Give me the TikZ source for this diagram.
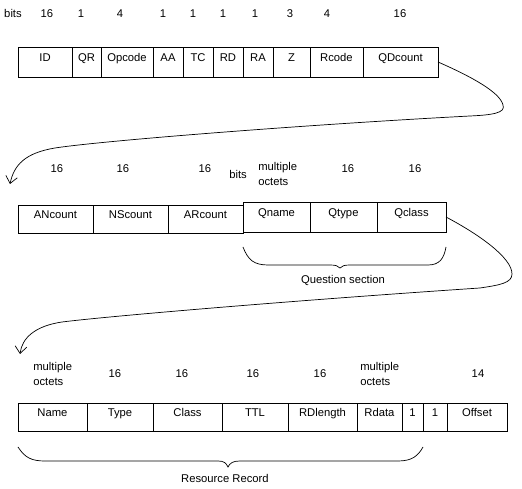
\documentclass[tikz,border=0pt]{standalone}
\usepackage{fontspec}
\setmainfont{Liberation Sans}
\usetikzlibrary{arrows.meta,positioning}

\begin{document}
\begin{tikzpicture}[x=0.03cm, y=-0.03cm, line width=0.6pt,
    every node/.style={font=\fontsize{9.6}{13}\selectfont, inner sep=0pt},
    field/.style={draw, outer sep=0pt, minimum height=0.9cm, text height=4pt, text depth=4pt},
    bitnum/.style={anchor=base},
    octets/.style={align=left, anchor=west},
    link/.style={-{Straight Barb[length=6pt,width=10pt]}}]
  \useasboundingbox (0,0) rectangle (522,489);

  % Header
  \foreach \x/\b in {13/bits, 47/16, 81/1, 120/4, 163/1, 193/1, 223/1, 255/1, 290/3, 327/4, 400/16}
    \node[bitnum] (h\x) at (\x,18) {\b};
  \foreach \name/\xa/\xb in {ID/18/72, QR/72/101, Opcode/101/153, AA/153/183, TC/183/213, RD/213/243, RA/243/273, Z/273/310, Rcode/310/363, QDcount/363/438}
    \node[field, minimum width={(\xb-\xa)*0.03cm}] (\name) at ({(\xa+\xb)/2},62) {\name};

  % Counts and question section
  \foreach \x/\b in {57/16, 123/16, 205/16, 348/16, 415/16}
    \node[bitnum] (c\x) at (\x,173) {\b};
  \node[bitnum] (cbits) at (238,179) {bits};
  \node[octets] (qoct) at (258,174) {multiple\\octets};
  \foreach \name/\xa/\xb in {ANcount/18/93, NScount/93/168, ARcount/168/243}
    \node[field, minimum width={(\xb-\xa)*0.03cm}, minimum height=0.84cm] (\name) at ({(\xa+\xb)/2},219) {\name};
  \foreach \name/\xa/\xb in {Qname/243/310, Qtype/310/377, Qclass/377/446}
    \node[field, minimum width={(\xb-\xa)*0.03cm}] (\name) at ({(\xa+\xb)/2},217) {\name};
  \draw (243,247) .. controls (248,260) and (254,265) .. (268,265) -- (330,265)
    .. controls (336,265) and (338,266) .. (340,268) .. controls (342,266) and (344,265) .. (350,265)
    -- (428,265) .. controls (440,265) and (444,258) .. (446,247);
  \node[anchor=base] (qsec) at (343,284) {Question section};

  % Resource record
  \node[octets] (noct) at (33,374) {multiple\\octets};
  \foreach \x/\b in {115/16, 182/16, 253/16, 320/16, 478/14}
    \node[bitnum] (r\x) at (\x,378) {\b};
  \node[octets] (doct) at (360,374) {multiple\\octets};
  \foreach \name/\txt/\xa/\xb in {Name/Name/18/87, Type/Type/87/153, Class/Class/153/222, TTL/TTL/222/288, RDlength/RDlength/288/357, Rdata/Rdata/357/402, oneA/1/402/423, oneB/1/423/447, Offset/Offset/447/507}
    \node[field, minimum width={(\xb-\xa)*0.03cm}, minimum height=0.84cm] (\name) at ({(\xa+\xb)/2},417) {\txt};
  \draw (18,447) .. controls (25,458) and (32,461) .. (45,461) -- (218,461)
    .. controls (224,461) and (226,463) .. (228,467) .. controls (230,463) and (233,461) .. (240,461)
    -- (398,461) .. controls (412,461) and (418,456) .. (423,447);
  \node[anchor=base] (rrec) at (225,483) {Resource Record};

  % Continuation arrows
  \coordinate (toAN) at (10,184);
  \coordinate (toName) at (20,354);
  \draw[link] (QDcount.east) .. controls (470,76) and (500,92) .. (503,105)
    .. controls (506,113) and (492,115) .. (470,116) .. controls (300,125) and (100,141) .. (55,148)
    .. controls (25,153) and (14,165) .. (toAN);
  \draw[link] (Qclass.east) .. controls (480,235) and (512,258) .. (512,274)
    .. controls (512,283) and (500,285) .. (480,288) .. controls (300,300) and (110,316) .. (62,322)
    .. controls (35,326) and (22,338) .. (toName);
\end{tikzpicture}
\end{document}
